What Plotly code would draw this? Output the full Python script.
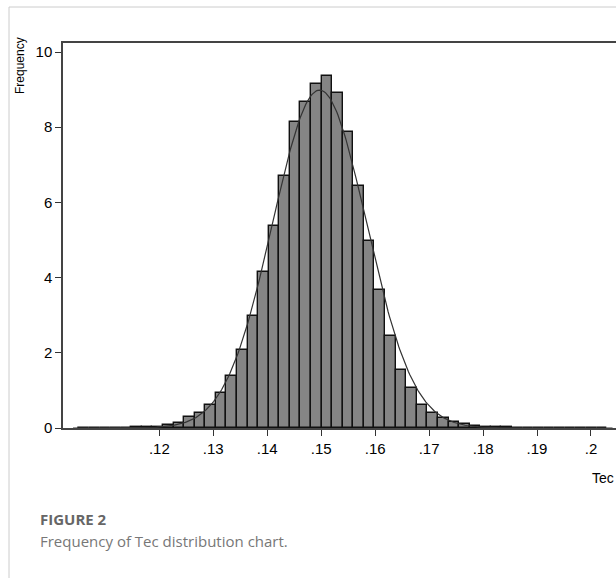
import numpy as np
import plotly.graph_objects as go

# ---- data ----
bin_start = 0.1050
bin_width = 0.00196
heights = [0.005, 0.005, 0.01, 0.01, 0.01, 0.02, 0.02,
           0.04, 0.08, 0.12, 0.28, 0.41, 0.61, 0.92, 1.39, 2.07, 2.98, 4.14,
           5.38, 6.71, 8.15, 8.66, 9.16, 9.37, 8.90, 7.86, 6.44, 4.98, 3.67,
           2.45, 1.54, 1.07, 0.61, 0.39, 0.27, 0.15, 0.10, 0.05,
           0.03, 0.02, 0.02, 0.01, 0.01, 0.01, 0.01, 0.005, 0.005, 0.005, 0.005, 0.005]
fit_mean = 0.1497
fit_sd = 0.0087
x_tickvals = [0.12, 0.13, 0.14, 0.15, 0.16, 0.17, 0.18, 0.19, 0.20]
x_ticktext = [".12", ".13", ".14", ".15", ".16", ".17", ".18", ".19", ".2"]
y_tickvals = [0, 2, 4, 6, 8, 10]
y_ticktext = ["0", "2", "4", "6", "8", "10"]

centers = [bin_start + bin_width * (i + 0.5) for i in range(len(heights))]
xc = np.linspace(0.104, 0.204, 400)
yc = 100 * bin_width / (fit_sd * np.sqrt(2 * np.pi)) * np.exp(-0.5 * ((xc - fit_mean) / fit_sd) ** 2)

W, H = 616, 578
L, T, R, B = 63, 43, 616, 428


def px(x):
    return (x - L) / (R - L)


def py(y):
    return (B - y) / (B - T)


fig = go.Figure()
fig.add_trace(go.Bar(x=centers, y=heights, width=bin_width,
                     marker=dict(color="#858585", line=dict(color="#111111", width=1.4)),
                     showlegend=False, hoverinfo="skip"))
fig.add_trace(go.Scatter(x=xc, y=yc, mode="lines",
                         line=dict(color="#333333", width=1.2),
                         showlegend=False, hoverinfo="skip"))

tickfont = dict(family="Liberation Sans, Arial, sans-serif", size=15, color="#000000")
fig.update_layout(
    width=W, height=H,
    margin=dict(l=L, t=T, r=W - R, b=H - B, pad=0),
    paper_bgcolor="white", plot_bgcolor="white",
    bargap=0,
    xaxis=dict(range=[0.10215, 0.20464], tickvals=x_tickvals, ticktext=x_ticktext,
               ticks="outside", ticklen=6, tickcolor="#333333", tickwidth=1,
               showline=True, linecolor="#444444", linewidth=1.5, mirror=True,
               showgrid=False, zeroline=False, tickfont=tickfont),
    yaxis=dict(range=[0, 10.24], tickvals=y_tickvals, ticktext=y_ticktext,
               ticks="outside", ticklen=6, tickcolor="#333333", tickwidth=1,
               showline=True, linecolor="#444444", linewidth=1.5,
               showgrid=False, zeroline=False, tickfont=tickfont),
    shapes=[
        dict(type="line", xref="paper", yref="paper", x0=px(9), x1=px(616), y0=py(7), y1=py(7),
             line=dict(color="#cccccc", width=1)),
        dict(type="line", xref="paper", yref="paper", x0=px(9), x1=px(9), y0=py(7), y1=py(578),
             line=dict(color="#cccccc", width=1)),
    ],
    annotations=[
        dict(text="Frequency", xref="paper", yref="paper", x=px(20), y=py(66),
             xanchor="center", yanchor="middle", textangle=-90, showarrow=False,
             font=dict(family="Liberation Sans, Arial, sans-serif", size=12, color="#000000")),
        dict(text="Tec", xref="paper", yref="paper", x=px(590), y=py(478),
             xanchor="left", yanchor="middle", showarrow=False,
             font=dict(family="Liberation Sans, Arial, sans-serif", size=14, color="#000000")),
        dict(text="<b>FIGURE 2</b>", xref="paper", yref="paper", x=px(38), y=py(519),
             xanchor="left", yanchor="middle", showarrow=False,
             font=dict(family="Open Sans, sans-serif", size=15, color="#666666")),
        dict(text="Frequency of Tec distribution chart.", xref="paper", yref="paper", x=px(38), y=py(541),
             xanchor="left", yanchor="middle", showarrow=False,
             font=dict(family="Open Sans, sans-serif", size=15, color="#777777")),
    ],
)

fig.write_html("out.html")
